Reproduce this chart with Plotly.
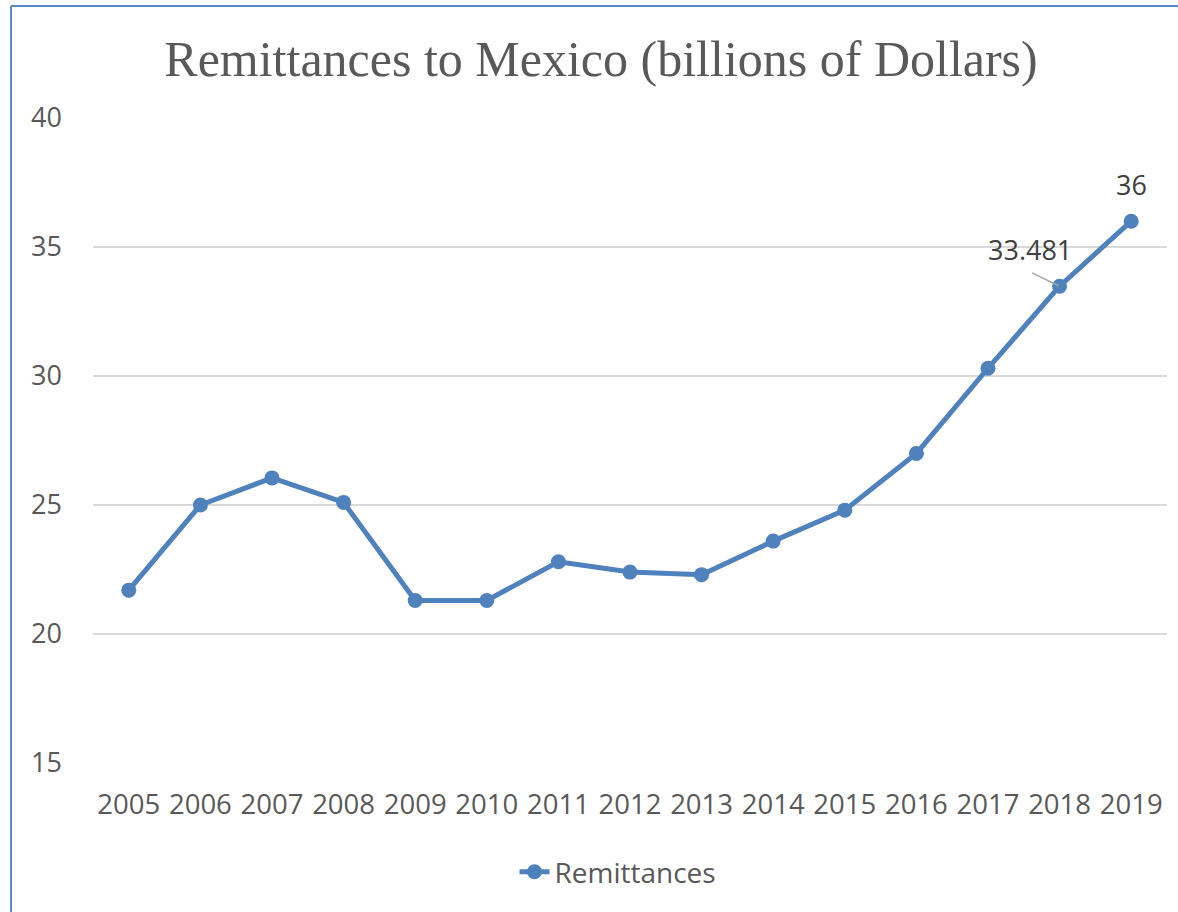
import plotly.graph_objects as go

years = ["2005", "2006", "2007", "2008", "2009", "2010", "2011", "2012",
         "2013", "2014", "2015", "2016", "2017", "2018", "2019"]
remittances = [21.7, 25.0, 26.05, 25.1, 21.3, 21.3, 22.8, 22.4,
               22.3, 23.6, 24.8, 27.0, 30.3, 33.481, 36.0]
y_ticks = [15, 20, 25, 30, 35, 40]
labels = {13: "33.481", 14: "36"}

LINE = "#4f81bd"
TXT = "#595959"
FONT = "Open Sans"

fig = go.Figure()
fig.add_trace(go.Scatter(
    x=years, y=remittances, mode="lines+markers", name="Remittances",
    line=dict(color=LINE, width=5),
    marker=dict(color=LINE, size=15),
))

# data labels (category index positions)
fig.add_annotation(x=14, y=remittances[14], text=labels[14], showarrow=False,
                   yshift=37, font=dict(family=FONT, size=27, color="#404040"))
fig.add_annotation(x=13, y=remittances[13], text=labels[13], showarrow=False,
                   xshift=-30, yshift=37, font=dict(family=FONT, size=27, color="#404040"))
# leader line for the 33.481 label
fig.add_annotation(x=13, y=remittances[13], text="", showarrow=True,
                   ax=-29, ay=-14, arrowhead=0, arrowwidth=1.5, arrowcolor="#a6a6a6",
                   standoff=1)

L, R, T, B = 93, 11, 118, 149
W, H = 1178, 912
pw, ph = W - L - R, H - T - B

def px_x(px):
    return (px - L) / pw

def px_y(py):
    return (H - B - py) / ph

# chart border (left and top edges visible)
border = dict(color="#5b8ac6", width=2)
fig.add_shape(type="line", xref="paper", yref="paper",
              x0=px_x(11), x1=px_x(11), y0=px_y(6), y1=px_y(915), line=border)
fig.add_shape(type="line", xref="paper", yref="paper",
              x0=px_x(11), x1=px_x(1180), y0=px_y(6), y1=px_y(6), line=border)

fig.update_layout(
    width=W, height=H,
    margin=dict(l=L, r=R, t=T, b=B),
    paper_bgcolor="white", plot_bgcolor="white",
    title=dict(text="Remittances to Mexico (billions of Dollars)",
               font=dict(family="Liberation Serif", size=50, color=TXT),
               x=601 / W, xanchor="center", xref="container",
               y=1 - 58 / H, yanchor="middle", yref="container"),
    xaxis=dict(type="category", range=[-0.5, 14.5], showgrid=False,
               showline=False, zeroline=False, ticks="",
               tickfont=dict(family=FONT, size=27.5, color=TXT),
               ticklabelstandoff=22),
    yaxis=dict(range=[15, 40], tickvals=y_ticks, showgrid=True,
               gridcolor="#d9d9d9", gridwidth=1.5, zeroline=False,
               showline=False, ticks="",
               tickfont=dict(family=FONT, size=27, color=TXT),
               ticklabelstandoff=30),
    showlegend=True,
    legend=dict(orientation="h", x=px_x(618), xanchor="center",
                y=px_y(872), yanchor="middle",
                font=dict(family=FONT, size=28, color=TXT)),
)

fig.write_html("out.html")
